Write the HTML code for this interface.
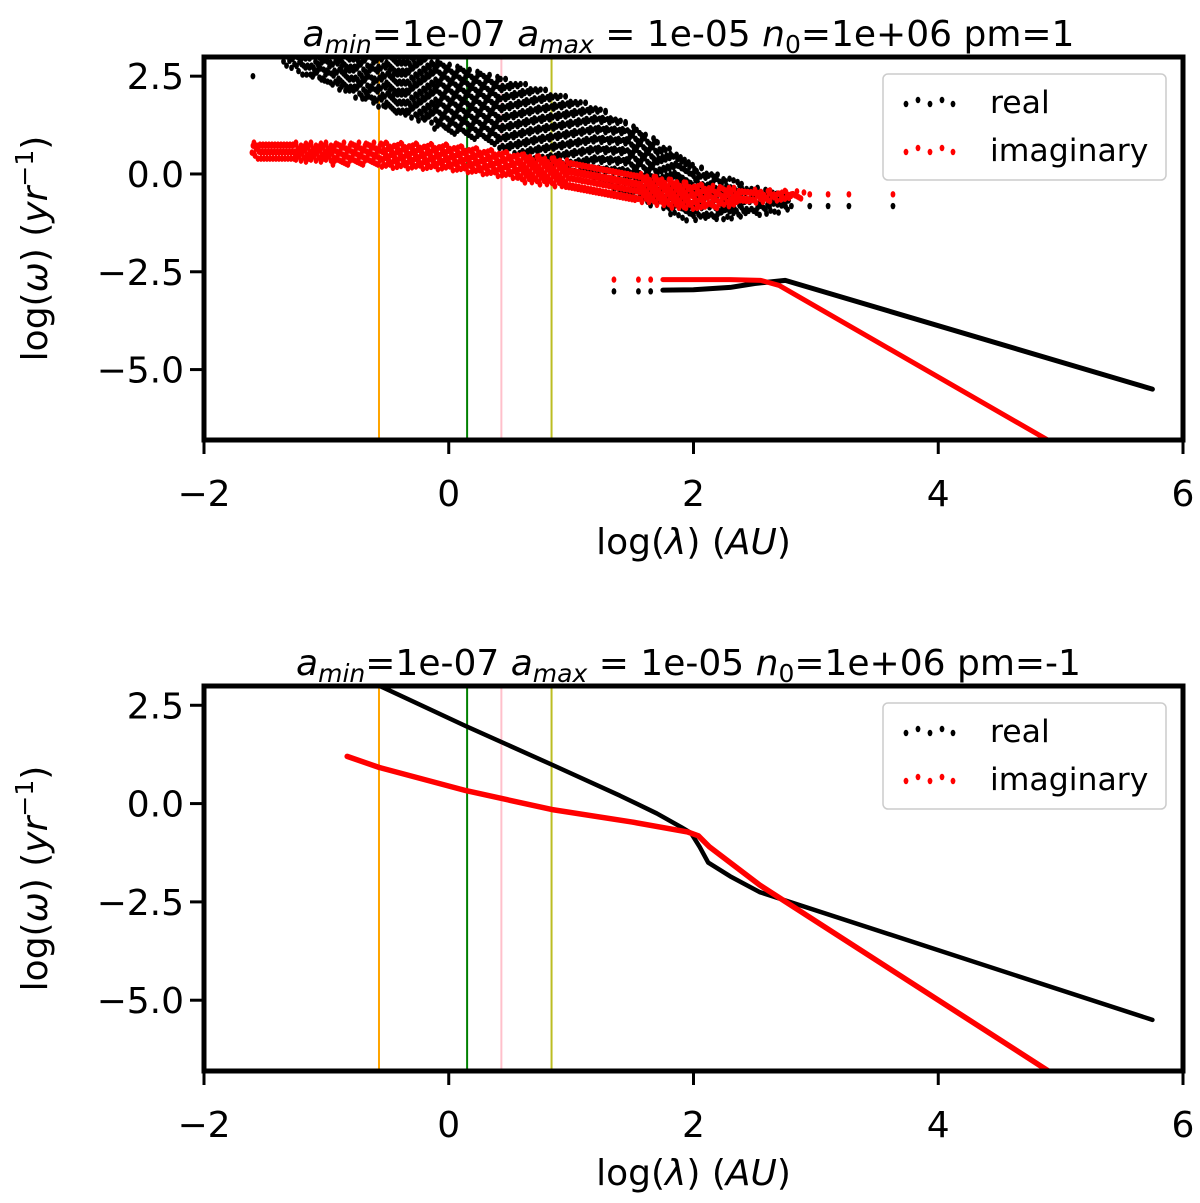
<!DOCTYPE html>
<html><head><meta charset="utf-8"><style>
html,body{margin:0;padding:0;background:#fff;}
svg{display:block;font-family:"DejaVu Sans","Liberation Sans",sans-serif;}
</style></head><body>
<svg id="fig" width="1200" height="1203" viewBox="0 0 1200 1203" xmlns="http://www.w3.org/2000/svg"></svg>
<script>
// ---- data ----
const xTicks = [-2, 0, 2, 4, 6];
const yTicks = [2.5, 0.0, -2.5, -5.0];
const yTickLabels = ["2.5", "0.0", "\u22122.5", "\u22125.0"];
const vLinesX = [-0.57, 0.15, 0.43, 0.84];
const vLinesColor = ["orange", "green", "pink", "#bcbd22"];
// top panel (pm=1): scatter cloud envelopes
const realCloudX = [-1.35, -1.2, -0.8, -0.3, 0.2, 0.7, 1.2, 1.6, 2.0, 2.4, 2.8];
const realCloudHi = [2.9, 3.0, 3.0, 3.0, 2.6, 2.2, 1.7, 1.0, 0.2, -0.3, -0.6];
const realCloudLo = [2.8, 2.6, 2.0, 1.4, 0.9, 0.4, -0.1, -0.7, -1.2, -1.1, -0.9];
const imagCloudX = [-1.6, -1.0, -0.5, 0.0, 0.5, 1.0, 1.5, 2.0, 2.5, 2.9];
const imagCloudHi = [0.75, 0.75, 0.75, 0.7, 0.5, 0.3, 0.0, -0.3, -0.45, -0.5];
const imagCloudLo = [0.45, 0.3, 0.2, 0.1, -0.1, -0.4, -0.7, -0.9, -0.75, -0.6];
const realTailX = [-1.6, 2.8, 2.95, 3.1, 3.27, 3.63];
const realTailY = [2.5, -0.82, -0.82, -0.82, -0.82, -0.82];
const imagTailX = [2.8, 2.95, 3.1, 3.27, 3.63];
const imagTailY = [-0.52, -0.52, -0.52, -0.52, -0.52];
const realTopX = [1.35, 1.55, 1.65, 1.75, 2.0, 2.3, 2.5, 2.75, 5.75];
const realTopY = [-3.0, -3.0, -3.0, -2.97, -2.96, -2.9, -2.8, -2.72, -5.5];
const imagTopX = [1.35, 1.55, 1.65, 1.75, 2.0, 2.3, 2.55, 2.7, 4.95];
const imagTopY = [-2.7, -2.7, -2.7, -2.7, -2.7, -2.7, -2.72, -2.85, -6.9];
// bottom panel (pm=-1)
const realBotX = [-0.57, 0.14, 0.835, 1.4, 1.7, 1.9, 1.98, 2.05, 2.12, 2.3, 2.54, 5.75];
const realBotY = [3.0, 1.97, 1.0, 0.2, -0.25, -0.6, -0.75, -1.1, -1.5, -1.85, -2.25, -5.5];
const imagBotX = [-0.83, -0.57, 0.14, 0.84, 1.5, 1.95, 2.04, 2.13, 2.54, 4.95];
const imagBotY = [1.2, 0.92, 0.33, -0.15, -0.47, -0.72, -0.82, -1.1, -2.07, -6.9];

const svg = document.getElementById('fig');
const NS = 'http://www.w3.org/2000/svg';
function mk(tag, attrs, parent){const e=document.createElementNS(NS,tag);for(const k in attrs)e.setAttribute(k,attrs[k]);(parent||svg).appendChild(e);return e;}

const L=204,R=1183,XMIN=-2,XMAX=6,YMAX=2.99,YMIN=-6.8;
function panel(top, bottom, pm){
  const g = mk('g',{});
  
  
  const sx = v => L + (v-XMIN)/(XMAX-XMIN)*(R-L);
  const sy = v => top + (YMAX-v)/(YMAX-YMIN)*(bottom-top);
  const clipId='clip'+pm;
  const cp=mk('clipPath',{id:clipId},g); mk('rect',{x:L,y:top,width:R-L,height:bottom-top},cp);
  const plot=mk('g',{'clip-path':'url(#'+clipId+')'},g);
  vLinesX.forEach((v,i)=>{const l=mk('line',{x1:sx(v),x2:sx(v),y1:top,y2:bottom,stroke:vLinesColor[i],'stroke-width':2},plot);
    
    });
  const poly=(xs,ys,color,w)=>mk('polyline',{points:xs.map((x,i)=>sx(x)+','+sy(ys[i])).join(' '),fill:'none',stroke:color,'stroke-width':w,'stroke-linejoin':'round','stroke-linecap':'round'},plot);
  const dot=(x,y,color,parent)=>mk('ellipse',{cx:x,cy:y,rx:2.4,ry:3.2,fill:color},parent);
  if(pm>0){
    const interp=(xs,ys,x)=>{for(let i=0;i<xs.length-1;i++){if(x>=xs[i]&&x<=xs[i+1]){const t=(x-xs[i])/(xs[i+1]-xs[i]);return ys[i]+t*(ys[i+1]-ys[i]);}}return null;};
    const cloud=(xs,hi,lo,color,name,step)=>{
      const cg=mk('g',{},plot);
      
      
      let k=0;
      for(let px=sx(xs[0]);px<=sx(xs[xs.length-1]);px+=step){
        const x=XMIN+(px-L)/(R-L)*(XMAX-XMIN);
        const h=interp(xs,hi,x),lo_=interp(xs,lo,x); if(h===null)continue;
        const y1=sy(h),y2=sy(lo_);
        for(let py=y1;py<=y2;py+=step){k++;dot(px+((k*7)%5-2),py+((k*3)%5-2),color,cg);}
      }
    };
    cloud(realCloudX,realCloudHi,realCloudLo,'#000','real-scatter-cloud',4);
    cloud(imagCloudX,imagCloudHi,imagCloudLo,'red','imaginary-scatter-cloud',3);
    realTailX.forEach((x,i)=>dot(sx(x),sy(realTailY[i]),'#000',plot));
    imagTailX.forEach((x,i)=>dot(sx(x),sy(imagTailY[i]),'red',plot));
    const a=poly(realTopX.slice(3),realTopY.slice(3),'#000',5);
     
    const b=poly(imagTopX.slice(3),imagTopY.slice(3),'red',5);
     
    for(let i=0;i<3;i++){dot(sx(realTopX[i]),sy(realTopY[i]),'#000',plot);dot(sx(imagTopX[i]),sy(imagTopY[i]),'red',plot);}
  } else {
    const a=poly(realBotX,realBotY,'#000',4.5);
     
    const b=poly(imagBotX,imagBotY,'red',5.5);
     
  }
  const fr=mk('rect',{x:L,y:top,width:R-L,height:bottom-top,fill:'none',stroke:'#000','stroke-width':5},g);
   
  xTicks.forEach(v=>{mk('line',{x1:sx(v),x2:sx(v),y1:bottom,y2:bottom+14,stroke:'#000','stroke-width':3},g);
    const t=mk('text',{x:sx(v),y:bottom+66,'font-size':36,'text-anchor':'middle'},g);t.textContent=(v<0?'\u2212'+(-v):String(v));
     });
  yTicks.forEach((v,i)=>{mk('line',{x1:L-14,x2:L,y1:sy(v),y2:sy(v),stroke:'#000','stroke-width':3},g);
    const t=mk('text',{x:L-20,y:sy(v)+13,'font-size':36,'text-anchor':'end'},g);t.textContent=yTickLabels[i];
     });
  const xl=mk('text',{x:(L+R)/2,y:bottom+114,'font-size':36,'text-anchor':'middle'},g);
  xl.innerHTML='log(<tspan font-style="italic">λ</tspan>) (<tspan font-style="italic">AU</tspan>)';
   
  const yl=mk('text',{x:0,y:0,'font-size':36,'text-anchor':'middle',transform:`translate(47,${(top+bottom)/2}) rotate(-90)`},g);
  yl.innerHTML='log(<tspan font-style="italic">ω</tspan>) (<tspan font-style="italic">yr</tspan><tspan font-size="25" dy="-14">−1</tspan><tspan dy="14">)</tspan>';
   
  const tt=mk('text',{x:(L+R)/2-5,y:top-11,'font-size':36,'text-anchor':'middle'},g);
  tt.innerHTML='<tspan font-style="italic">a</tspan><tspan font-style="italic" font-size="25" dy="7">min</tspan><tspan dy="-7">=1e-07 </tspan><tspan font-style="italic">a</tspan><tspan font-style="italic" font-size="25" dy="7">max</tspan><tspan dy="-7"> = 1e-05 </tspan><tspan font-style="italic">n</tspan><tspan font-size="25" dy="7">0</tspan><tspan dy="-7">=1e+06 pm='+(pm>0?'1':'-1')+'</tspan>';
   
  const lg=mk('g',{},g);
   
  const ly=top+17;
  mk('rect',{x:883,y:ly,width:283,height:106,rx:5,fill:'#fff','fill-opacity':0.85,stroke:'#ccc','stroke-width':1.5},lg);
  [['real','#000',28],['imaginary','red',76]].forEach(([lab,c,dy])=>{
    const e=mk('g',{},lg);
     
    [906,918,930,942,953].forEach((x,i)=>dot(x,ly+dy+(i%2?-2:2),c,e));
    const t=mk('text',{x:990,y:ly+dy+11,'font-size':31.5},e);t.textContent=lab;
  });
}
panel(57,440,1);
panel(686,1071,-1);
</script>
</body></html>
